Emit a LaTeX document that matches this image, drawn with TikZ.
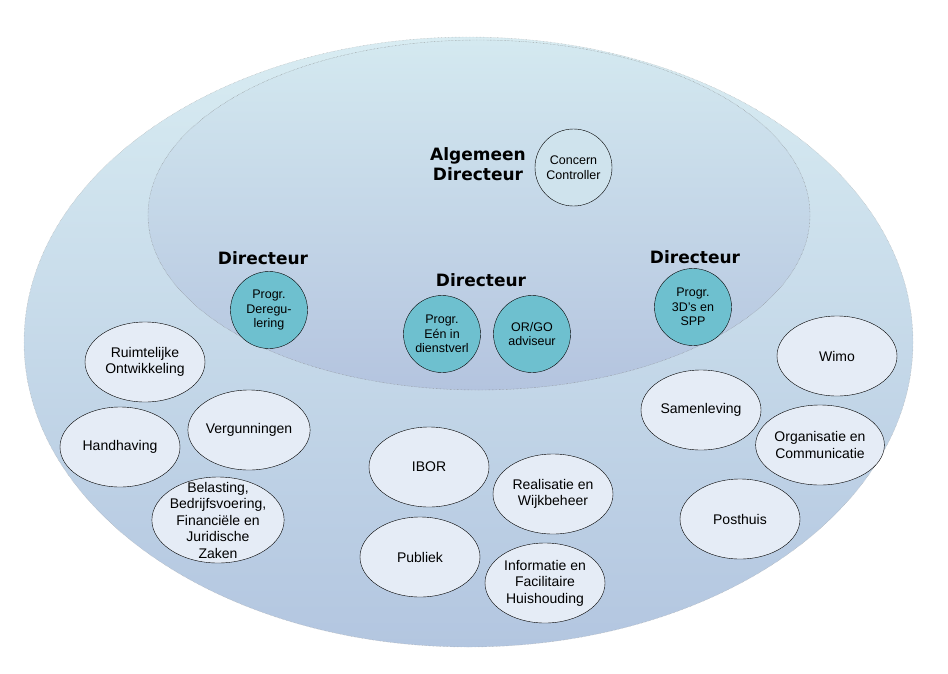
\documentclass[tikz,border=0pt]{standalone}
\usepackage{fontspec}
\setmainfont{Liberation Sans}
\newfontfamily\dirfont{DejaVu Sans}
\usetikzlibrary{positioning,shapes.geometric}

\definecolor{veldtop}{HTML}{D8ECF2}
\definecolor{veldbot}{HTML}{B3C6E0}
\definecolor{kerntop}{HTML}{D4E9F0}
\definecolor{kernbot}{HTML}{B4C4DF}
\definecolor{progfill}{HTML}{6EC0CF}
\definecolor{unitfill}{HTML}{E5ECF6}

\begin{document}
\begin{tikzpicture}[x=1pt,y=-1pt,
  unit node/.style={ellipse,fill=unitfill,draw,thin,minimum width=120pt,minimum height=80pt,
    font=\fontsize{14}{16.5}\selectfont,align=center,inner sep=0pt},
  prog node/.style={circle,fill=progfill,draw,thin,minimum size=77pt,inner sep=0pt,
    font=\fontsize{12.5}{14.5}\selectfont,align=center},
  dir label/.style={font=\dirfont\bfseries\fontsize{17}{20}\selectfont,align=center}]

  \useasboundingbox (0,0) rectangle (948,673);

  % organisation field and management core
  \path[top color=veldtop,bottom color=veldbot,draw=gray!70,densely dotted]
    (468.5,342) ellipse [x radius=444.5,y radius=305];
  \path[top color=kerntop,bottom color=kernbot,draw=gray,densely dotted]
    (479,215) ellipse [x radius=331,y radius=175];

  \node[dir label] (ad) at (478,164) {Algemeen\\Directeur};
  \node[prog node,fill=kerntop!85!kernbot] (cc) at (573.5,167.5) {Concern\\Controller};

  \node[dir label] (dirL) at (263,258) {Directeur};
  \node[dir label] (dirM) at (481,280) {Directeur};
  \node[dir label] (dirR) at (695,257) {Directeur};

  \node[prog node] (dereg) at (269,310) {Progr.\\Deregu-\\lering};
  \node[prog node] (een) at (442,334) {Progr.\\Eén in\\dienstverl};
  \node[prog node] (orgo) at (532,334) {OR/GO\\adviseur};
  \node[prog node] (spp) at (693,307) {Progr.\\3D's en\\SPP};

  % departments
  \node[unit node] (ro) at (145,362) {Ruimtelijke\\Ontwikkeling};
  \node[unit node] (hh) at (120,447) {Handhaving};
  \node[unit node] (vg) at (249,430) {Vergunningen};
  \node[unit node,minimum width=130pt,minimum height=86pt,inner xsep=-1.5pt,inner ysep=-9pt]
    (bbfj) at (218,520) {Belasting,\\Bedrijfsvoering,\\Financiële en\\Juridische\\Zaken};
  \node[unit node] (ibor) at (429,467) {IBOR};
  \node[unit node] (rw) at (553,494) {Realisatie en\\Wijkbeheer};
  \node[unit node] (pub) at (420,557) {Publiek};
  \node[unit node] (ifh) at (545,583) {Informatie en\\Facilitaire\\Huishouding};
  \node[unit node] (wimo) at (837,356) {Wimo};
  \node[unit node] (sam) at (701,410) {Samenleving};
  \node[unit node] (oc) at (820,445) {Organisatie en\\Communicatie};
  \node[unit node] (ph) at (740,519) {Posthuis};
\end{tikzpicture}
\end{document}
